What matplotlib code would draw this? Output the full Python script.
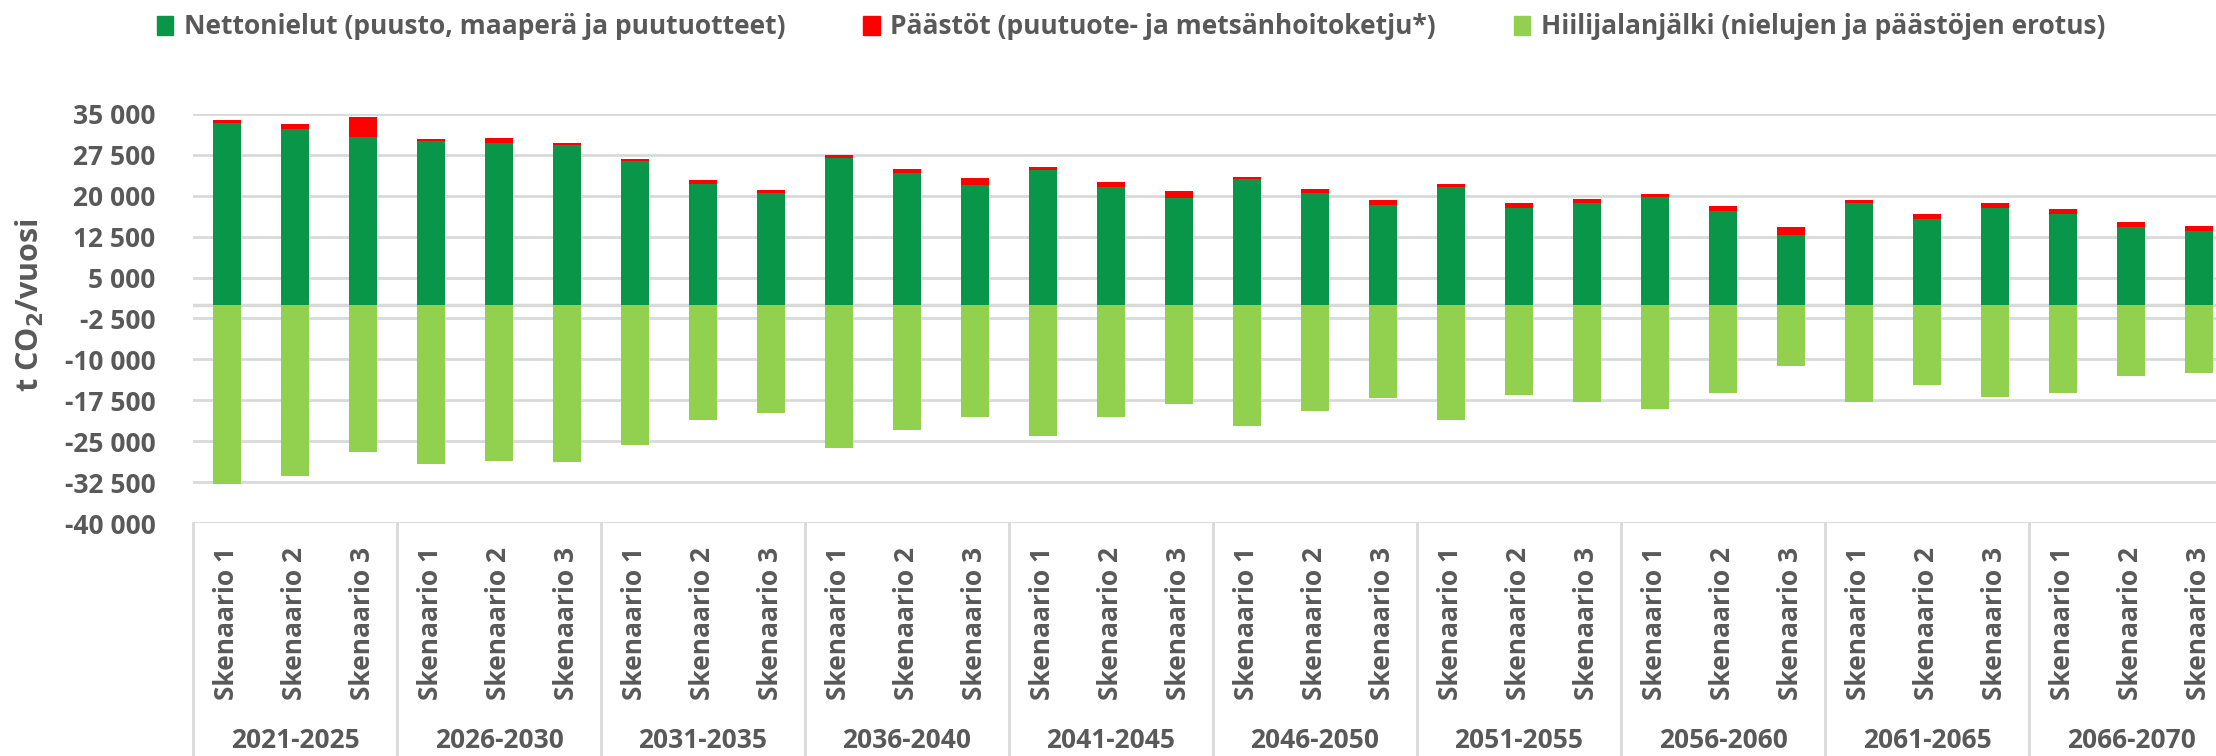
import matplotlib
matplotlib.use("Agg")
import matplotlib.pyplot as plt
import matplotlib.transforms as mtransforms
from matplotlib.patches import Patch
from matplotlib.ticker import FuncFormatter, FixedLocator
import numpy as np

# data (t CO2 / vuosi)
periods = ["2021-2025", "2026-2030", "2031-2035", "2036-2040", "2041-2045",
           "2046-2050", "2051-2055", "2056-2060", "2061-2065", "2066-2070"]
scenarios = ["Skenaario 1", "Skenaario 2", "Skenaario 3"]

nettonielut = [33400, 32300, 30800, 30000, 29750, 29400, 26350, 22100, 20500,
               26950, 24100, 21950, 24700, 21600, 19600, 23000, 20450, 18250,
               21700, 17700, 18650, 19800, 17200, 12800, 18600, 15800, 17850,
               16750, 14200, 13500]
paastot = [430, 790, 3600, 370, 790, 370, 430, 850, 490,
           490, 790, 1400, 550, 850, 1280, 430, 790, 980,
           550, 920, 790, 550, 920, 1520, 610, 920, 790,
           790, 980, 980]
hiilijalanjalki = [-32800, -31400, -27000, -29200, -28650, -28850, -25650, -21050, -19750,
                   -26200, -23000, -20550, -24000, -20600, -18250, -22300, -19450, -17150,
                   -21150, -16600, -17800, -19100, -16200, -11300, -17900, -14750, -16900,
                   -16150, -13100, -12550]

legend_labels = ["Nettonielut (puusto, maaperä ja puutuotteet)",
                 "Päästöt (puutuote- ja metsänhoitoketju*)",
                 "Hiilijalanjälki (nielujen ja päästöjen erotus)"]

C_DARK = "#0A9649"
C_RED = "#FF0000"
C_LIGHT = "#92D050"
C_TEXT = "#595959"
C_GRID = "#D9D9D9"

plt.rcParams["font.family"] = ["Open Sans", "DejaVu Sans"]
plt.rcParams["font.weight"] = "bold"

W, H = 2216, 756
fig = plt.figure(figsize=(W / 100, H / 100), dpi=100)
ax = fig.add_axes([193 / W, (H - 523) / H, 2040 / W, 409 / H])

x = np.arange(len(nettonielut))
bw = 0.4
ax.bar(x, nettonielut, bw, color=C_DARK, zorder=3)
ax.bar(x, paastot, bw, bottom=nettonielut, color=C_RED, zorder=3)
ax.bar(x, hiilijalanjalki, bw, color=C_LIGHT, zorder=3)

ax.set_xlim(-0.5, len(x) - 0.5)
ax.set_ylim(-40000, 35000)
ax.yaxis.set_major_locator(FixedLocator(np.arange(-40000, 35001, 7500)))
ax.yaxis.set_major_formatter(FuncFormatter(lambda v, p: f"{v:,.0f}".replace(",", " ")))
ax.set_xticks([])
ax.tick_params(axis="y", length=0, pad=27, labelsize=19, labelcolor=C_TEXT)
for lbl in ax.get_yticklabels():
    lbl.set_fontweight("bold")
ax.grid(axis="y", color=C_GRID, linewidth=2, zorder=0)
ax.axhline(0, color=C_GRID, linewidth=2.5, zorder=2)
for s in ax.spines.values():
    s.set_visible(False)

# category axis: scenario labels, period labels and separators
trans = mtransforms.blended_transform_factory(ax.transData, fig.transFigure)
for i in range(len(x)):
    ax.text(x[i], (H - 547) / H, scenarios[i % 3], rotation=90, ha="center", va="top",
            fontsize=19, fontweight="bold", color=C_TEXT, transform=trans)
for g, per in enumerate(periods):
    ax.text(g * 3 + 1, (H - 740) / H, per, ha="center", va="center",
            fontsize=19, fontweight="bold", color=C_TEXT, transform=trans)
for g in range(len(periods) + 1):
    ax.plot([g * 3 - 0.5] * 2, [(H - 523) / H, 0], color=C_GRID, linewidth=2,
            transform=trans, clip_on=False)

fig.text(30 / W, (H - 305) / H, r"t CO$_\mathbf{2}$/vuosi", rotation=90, ha="center",
         va="center", fontsize=22, fontweight="bold", color=C_TEXT)

handles = [Patch(color=C_DARK), Patch(color=C_RED), Patch(color=C_LIGHT)]
fig.legend(handles, legend_labels, loc="center left", bbox_to_anchor=(157 / W, 1 - 27 / H),
           ncol=3, frameon=False, fontsize=19, labelcolor=C_TEXT,
           handlelength=0.62, handleheight=0.75, handletextpad=0.4,
           columnspacing=2.95, borderpad=0, borderaxespad=0)

fig.savefig("out.png", dpi=100)
